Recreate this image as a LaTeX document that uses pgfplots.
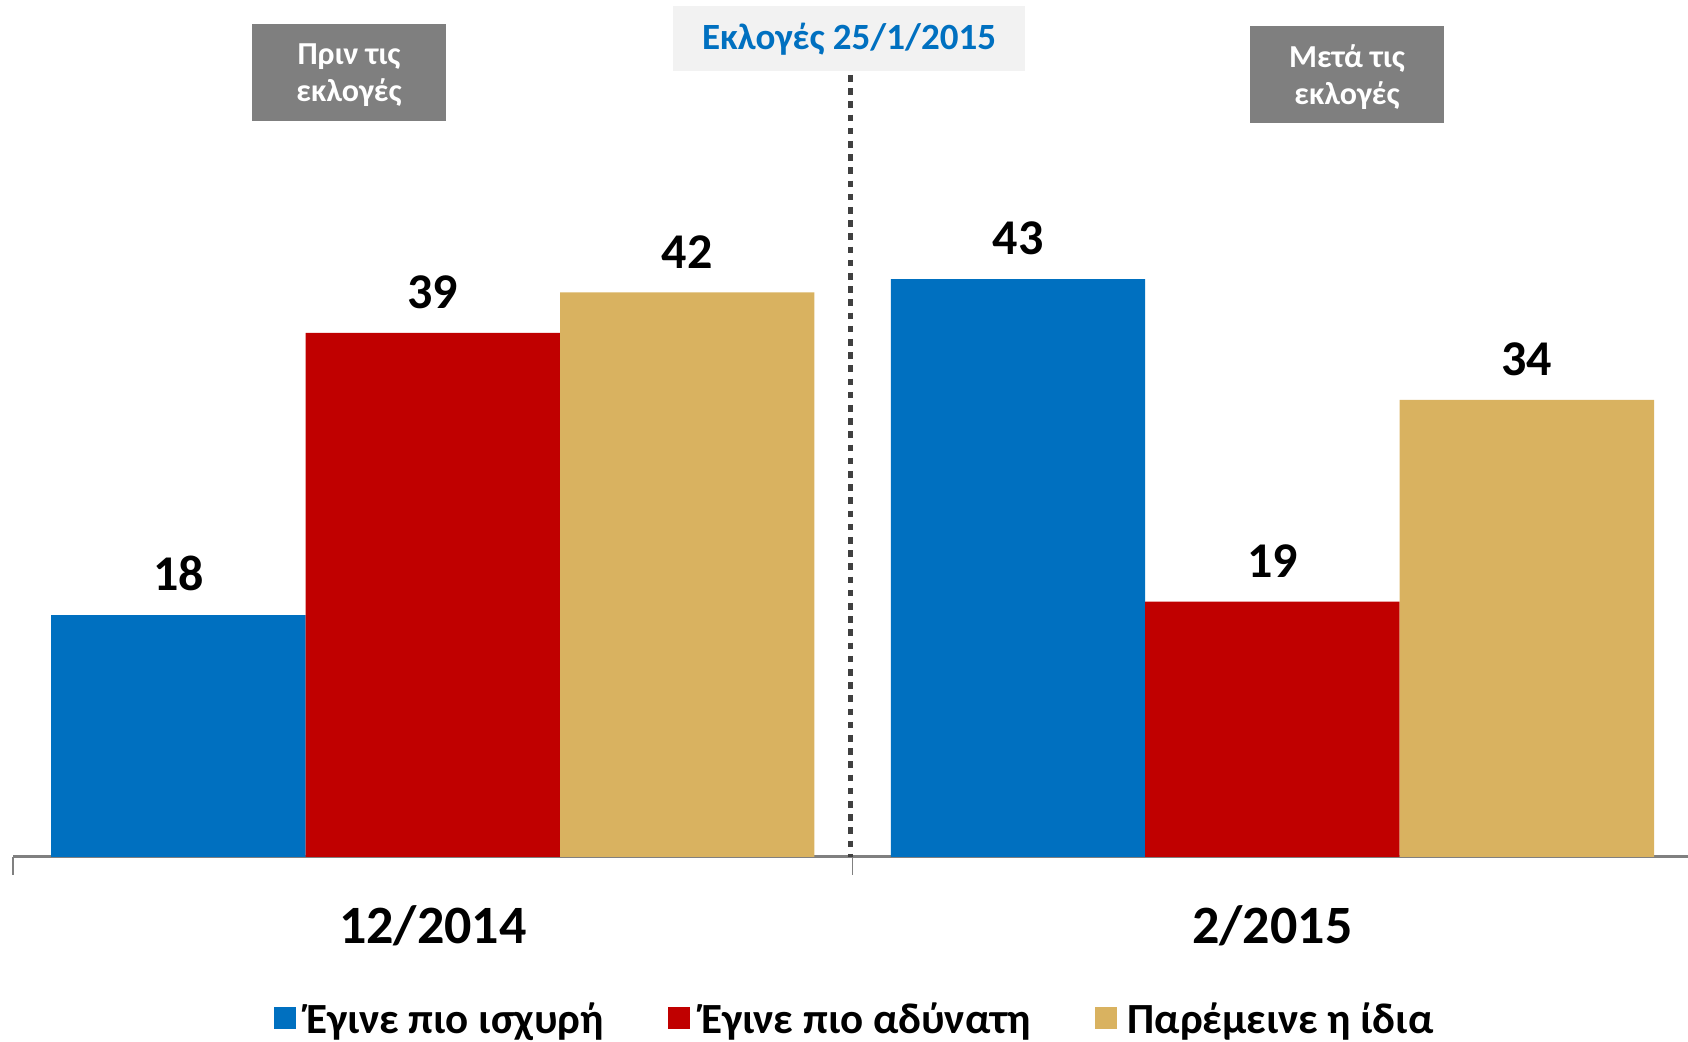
\documentclass[border=0pt]{standalone}
\usepackage{fontspec}
\setmainfont{Carlito}
\usepackage{pgfplots}
\pgfplotsset{compat=1.18}
\definecolor{cblue}{RGB}{0,112,192}
\definecolor{cred}{RGB}{192,0,0}
\definecolor{cgold}{RGB}{217,178,96}
\definecolor{boxgray}{RGB}{127,127,127}
\definecolor{lightbox}{RGB}{242,242,242}
\definecolor{axisgray}{RGB}{128,128,128}
\definecolor{dotgray}{RGB}{64,64,64}
\begin{document}
\begin{tikzpicture}
\path[use as bounding box] (0,0) rectangle (844pt,521pt);
\begin{axis}[
  at={(6.5pt,92.5pt)}, anchor=south west,
  scale only axis, width=837.5pt, height=428.5pt,
  xmin=-0.5, xmax=1.495, ymin=0, ymax=63.76,
  enlargelimits=false, clip=false,
  axis y line=none, axis x line*=bottom,
  x axis line style={draw=axisgray, line width=1.5pt, -},
  ybar, bar width=127.2pt, bar shift=0pt,
  /pgf/number format/assume math mode=true,
  xtick={0,1}, xticklabels={\textbf{12/2014},\textbf{2/2015}},
  major tick length=0pt,
  xticklabel style={font=\fontsize{27}{31}\selectfont, anchor=base, yshift=-43.5pt, inner sep=0pt},
  extra x ticks={-0.5,0.5}, extra x tick labels={},
  extra x tick style={major tick length=9pt, tick align=outside, tick style={draw=axisgray, line width=0.6pt}},
  nodes near coords={\pgfmathprintnumber{\pgfplotspointmeta}},
  every node near coord/.append style={font=\fontsize{25}{30}\selectfont\bfseries, text=black, anchor=south, inner sep=0pt, yshift=12pt},
  legend style={at={(0.503,-0.19)}, anchor=center, draw=none, fill=none,
    font=\fontsize{21.5}{25}\selectfont\bfseries,
    /tikz/every even column/.append style={column sep=30pt}},
  legend columns=3,
]
\addplot[fill=cblue, draw=none, legend image code/.code={\fill[cblue] (0pt,-4.5pt) rectangle (11pt,6.5pt); \path (14.5pt,0pt);}] coordinates {(-0.303,18) (0.697,43)};
\addplot[fill=cred, draw=none, legend image code/.code={\fill[cred] (0pt,-4.5pt) rectangle (11pt,6.5pt); \path (14.5pt,0pt);}] coordinates {(0,39) (1,19)};
\addplot[fill=cgold, draw=none, legend image code/.code={\fill[cgold] (0pt,-4.5pt) rectangle (11pt,6.5pt); \path (14.5pt,0pt);}] coordinates {(0.303,42) (1.303,34)};
\legend{Έγινε πιο ισχυρή, Έγινε πιο αδύνατη, Παρέμεινε η ίδια}
\end{axis}
\draw[dotgray, line width=2.5pt, dash pattern=on 3.3pt off 3.3pt] (425pt,483.5pt) -- (425pt,92.5pt);
\fill[boxgray] (126pt,460.7pt) rectangle (223pt,509.15pt);
\node[text=white, align=center, font=\fontsize{16}{18.5}\selectfont\bfseries] at (174.5pt,483.6pt) {Πριν τις\\εκλογές};
\fill[boxgray] (625pt,459.5pt) rectangle (722pt,508pt);
\node[text=white, align=center, font=\fontsize{16}{18.5}\selectfont\bfseries] at (673.5pt,482.45pt) {Μετά τις\\εκλογές};
\fill[lightbox] (336.5pt,485.5pt) rectangle (512.5pt,517.75pt);
\node[text=cblue, font=\fontsize{18.5}{22}\selectfont\bfseries] at (424.5pt,501.6pt) {Εκλογές 25/1/2015};
\end{tikzpicture}
\end{document}
